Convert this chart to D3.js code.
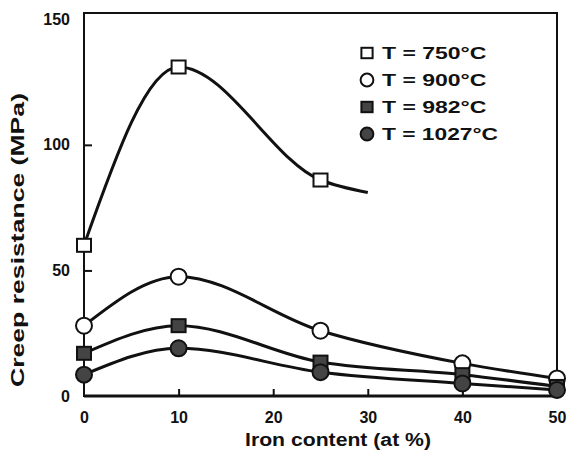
<!DOCTYPE html>
<html>
<head>
<meta charset="utf-8">
<script src="https://cdn.jsdelivr.net/npm/d3@7/dist/d3.min.js"></script>
<style>
  body { margin: 0; background: #fff; }
  text { font-family: "Liberation Sans", Arial, sans-serif; font-weight: bold; fill: #111; }
</style>
</head>
<body>
<div id="chart"></div>
<script>
// data
const ironContent = [0, 10, 25, 40, 50];
const creep750 = [60, 131, 86, null, null];
const creep900 = [28, 47.5, 26, 13, 7];
const creep982 = [17, 28, 13.5, 8.5, 3.8];
const creep1027 = [8.5, 19, 9.5, 5, 2.4];
const tail750 = { x: 30, y: 81 }; // curve end, no marker
const xTicks = [0, 10, 20, 30, 40, 50];
const yTicks = [0, 50, 100, 150];
const seriesNames = ['T = 750°C', 'T = 900°C', 'T = 982°C', 'T = 1027°C'];
const seriesMarks = ['openSquare', 'openCircle', 'filledSquare', 'filledCircle'];

const W = 572, H = 459;
const margin = { top: 13, right: 15, bottom: 63, left: 84 };
const width = W - margin.left - margin.right;
const height = H - margin.top - margin.bottom;

const svg = d3.select('#chart').append('svg')
  .attr('width', W).attr('height', H);
const g = svg.append('g').attr('transform', `translate(${margin.left},${margin.top})`);

const x = d3.scaleLinear().domain([0, 50]).range([0, width]);
const y = d3.scaleLinear().domain([0, 152.5]).range([height, 0]);

// frame
g.append('rect').attr('width', width).attr('height', height)
  .attr('fill', 'none').attr('stroke', '#111').attr('stroke-width', 2);
g.append('line').attr('x1', 0).attr('x2', width).attr('y1', height).attr('y2', height)
  .attr('stroke', '#111').attr('stroke-width', 3);

// axes with inward ticks
const xAxis = g.append('g').attr('transform', `translate(0,${height})`)
  .call(d3.axisBottom(x).tickValues(xTicks).tickSize(-7).tickPadding(16).tickFormat(d3.format('d')));
const yAxis = g.append('g')
  .call(d3.axisLeft(y).tickValues(yTicks).tickSize(-8).tickPadding(14).tickFormat(d3.format('d')));
[xAxis, yAxis].forEach(a => {
  a.select('.domain').remove();
  a.selectAll('line').attr('stroke', '#111').attr('stroke-width', 2);
  a.selectAll('text').style('font-size', '16px').attr('fill', '#111');
});
xAxis.selectAll('.tick').filter(d => d === 0 || d === 50).select('line').remove();
yAxis.selectAll('.tick').filter(d => d === 0 || d === 150).select('line').remove();

// axis titles
svg.append('text')
  .attr('transform', `translate(24,240) rotate(-90)`)
  .attr('text-anchor', 'middle').style('font-size', '18px')
  .attr('textLength', 294).attr('lengthAdjust', 'spacingAndGlyphs')
  .text('Creep resistance (MPa)');
svg.append('text')
  .attr('x', 338).attr('y', 446)
  .attr('text-anchor', 'middle').style('font-size', '18px')
  .attr('textLength', 186).attr('lengthAdjust', 'spacingAndGlyphs')
  .text('Iron content (at %)');

// series
const allSeries = [creep750, creep900, creep982, creep1027].map((vals, i) => ({
  name: seriesNames[i],
  mark: seriesMarks[i],
  points: ironContent.map((c, j) => ({ x: c, y: vals[j] })).filter(p => p.y !== null)
}));

const line = d3.line().x(d => x(d.x)).y(d => y(d.y)).curve(d3.curveMonotoneX);

allSeries.forEach((s, i) => {
  const pts = i === 0 ? s.points.concat([tail750]) : s.points;
  g.append('path').datum(pts)
    .attr('fill', 'none').attr('stroke', '#111').attr('stroke-width', 3)
    .attr('d', line);
});

function drawMark(sel, mark, cx, cy, size) {
  const s = size || 1;
  if (mark.includes('Square')) {
    sel.append('rect')
      .attr('x', cx - 7 * s).attr('y', cy - 6.5 * s).attr('width', 14 * s).attr('height', 13 * s)
      .attr('fill', mark === 'filledSquare' ? '#444' : '#fff')
      .attr('stroke', '#111').attr('stroke-width', 2);
  } else {
    sel.append('circle').attr('cx', cx).attr('cy', cy).attr('r', 8 * s)
      .attr('fill', mark === 'filledCircle' ? '#444' : '#fff')
      .attr('stroke', '#111').attr('stroke-width', 2);
  }
}

allSeries.forEach(s => {
  s.points.forEach(p => drawMark(g, s.mark, x(p.x), y(p.y)));
});

// legend
const legend = svg.append('g').attr('transform', 'translate(367,53)');
allSeries.forEach((s, i) => {
  const row = legend.append('g').attr('transform', `translate(0,${i * 27})`);
  drawMark(row, s.mark, 0, 0, 0.8);
  const t = row.append('text').attr('x', 15).attr('y', 6)
    .style('font-size', '16px').text(s.name);
  t.attr('textLength', s.name.length * 11.6).attr('lengthAdjust', 'spacingAndGlyphs');
});
</script>
</body>
</html>
